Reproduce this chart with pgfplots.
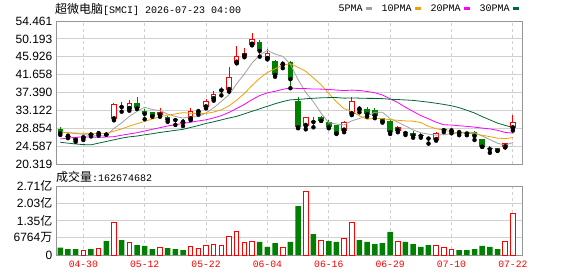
\documentclass[border=0pt]{standalone}
\usepackage{pgfplots}
\usepackage{pgfplotstable}
\pgfplotsset{compat=1.18}
\usepackage{fontspec}
\setmainfont{Liberation Sans}
\setmonofont{Liberation Mono}
\newfontfamily\cjk{Noto Sans CJK SC}
\definecolor{kred}{RGB}{255,0,0}
\definecolor{kgreen}{RGB}{0,128,0}
\definecolor{maA}{RGB}{160,160,160}
\definecolor{maB}{RGB}{240,160,0}
\definecolor{maC}{RGB}{255,0,255}
\definecolor{maD}{RGB}{0,104,52}
\definecolor{gridc}{RGB}{208,208,208}
\definecolor{framec}{RGB}{150,150,150}

% red (rising) candles: index open high low close
\pgfplotstableread{
i o h l c
1 26.85 27.40 26.50 27.00
3 26.46 27.10 26.05 27.08
5 27.45 28.10 27.10 27.65
7 31.00 34.80 30.75 34.60
9 33.45 35.60 33.05 34.95
13 31.90 33.60 31.60 32.66
16 30.20 31.00 29.40 30.35
17 31.00 33.60 30.80 33.05
18 32.70 33.50 32.10 33.00
19 33.85 35.76 33.60 35.35
20 35.80 37.80 35.45 37.00
22 38.00 43.55 37.60 41.15
23 44.50 48.50 44.35 46.10
24 46.10 47.95 45.80 46.90
25 48.80 51.70 48.65 50.10
27 45.40 47.70 45.30 46.90
29 44.00 45.00 43.20 44.20
32 29.40 31.60 28.60 31.60
37 28.30 30.65 27.90 30.40
38 32.20 36.40 32.00 35.35
39 33.30 34.20 32.66 33.45
44 28.30 29.30 27.90 29.10
49 26.05 27.90 25.90 27.80
51 28.10 28.60 27.65 28.20
52 27.70 28.00 27.20 27.80
58 24.30 25.30 24.30 25.25
59 28.85 32.00 28.30 30.25
}\redc
% green (falling) candles
\pgfplotstableread{
i o h l c
0 28.70 29.10 27.25 27.65
2 26.70 26.80 25.65 26.05
4 27.55 27.90 26.90 27.35
6 27.80 27.90 27.30 27.35
8 34.10 35.20 32.80 33.90
10 34.95 36.40 33.45 33.60
11 33.05 33.40 31.00 32.30
12 32.70 32.75 31.60 31.80
14 31.50 31.85 30.40 30.85
15 31.00 31.05 29.65 30.80
21 38.10 38.60 36.70 37.90
26 49.45 49.90 45.95 47.30
28 45.00 45.15 41.15 41.60
30 44.75 45.00 38.40 40.55
31 35.35 36.25 28.85 29.10
33 30.50 31.47 29.08 30.35
34 31.60 31.75 30.60 30.65
35 30.40 30.80 28.85 29.10
36 29.60 29.65 27.50 27.65
40 33.40 34.00 31.60 32.20
41 33.20 33.75 31.25 31.85
42 31.25 31.40 30.20 30.45
43 30.60 30.80 27.50 27.90
45 27.90 28.30 27.25 27.70
46 27.80 28.30 26.60 27.10
47 27.15 27.80 26.60 27.00
48 26.50 26.85 25.20 26.40
50 28.55 28.90 27.95 28.40
53 27.75 28.00 27.20 27.60
54 27.90 28.20 26.05 27.00
55 26.20 26.40 24.40 24.45
56 24.00 24.60 23.00 23.85
57 24.05 24.10 23.45 23.50
}\greenc
% volume, millions of shares
\pgfplotstableread{
i v
3 19.6
5 27.4
7 125.5
9 49.7
13 30.1
17 34.0
18 27.4
19 37.9
20 41.8
21 35.3
22 73.2
23 92.8
24 49.7
25 53.6
29 30.1
32 249.7
34 57.5
37 65.3
38 128.1
44 54.9
49 35.3
50 30.1
51 23.5
58 51.0
59 162.67
}\volr
\pgfplotstableread{
i v
0 28.7
1 23.5
2 23.5
4 23.5
6 54.9
8 58.8
10 39.2
11 35.3
12 23.5
14 27.4
15 23.5
16 19.6
26 51.0
27 31.4
28 47.0
30 51.0
31 192.1
33 82.3
35 54.9
36 51.0
39 58.8
40 51.0
41 43.1
42 47.0
43 90.2
45 51.0
46 43.1
47 31.4
48 39.2
52 19.6
53 19.6
54 23.5
55 35.3
56 31.4
57 23.5
}\volg

\pgfplotsset{kaxis/.style={
  scale only axis, width=466pt,
  xmin=-0.56, xmax=60.19,
  axis line style={framec, line width=0.8pt},
  major tick length=0pt,
  xtick={3,11,19,27,35,43,51,59},
  xmajorgrids, ymajorgrids,
  x grid style={gridc, dash pattern=on 3pt off 3pt, line width=0.8pt},
  y grid style={gridc, line width=0.8pt},
  yticklabel style={font=\fontsize{12}{12}\selectfont, anchor=east, inner sep=0pt, xshift=-3.5pt},
}}

\begin{document}
\begin{tikzpicture}
\useasboundingbox (0,0) rectangle (578pt,276pt);

\begin{axis}[kaxis, at={(56pt,112pt)}, anchor=south west, height=143pt,
  ymin=20.319, ymax=54.461,
  ytick={20.319,24.587,28.854,33.122,37.390,41.658,45.926,50.193,54.461},
  yticklabels={20.319,24.587,28.854,33.122,37.390,41.658,45.926,50.193,54.461},
  xticklabels={},
  legend columns=4,
  legend plot pos=right,
  legend style={at={(0.603,1.084)}, anchor=west, draw=none, fill=none,
    inner xsep=0pt, inner ysep=0pt,
    font=\ttfamily\fontsize{10}{10}\selectfont,
    nodes={inner xsep=1.5pt, inner ysep=0pt},
    /tikz/every even column/.append style={column sep=7pt}},
  legend image code/.code={\draw[#1, line width=3pt] (0pt,0pt) -- (6pt,0pt);},
]
% green candles
\addplot[only marks, mark=none, forget plot,
  error bars/.cd, y dir=plus, y explicit, error mark=none,
  error bar style={kgreen, line width=1pt}]
  table[x=i, y=l, y error expr={\thisrow{h}-\thisrow{l}}] {\greenc};
\addplot[only marks, mark=none, forget plot,
  error bars/.cd, y dir=plus, y explicit, error mark=none,
  error bar style={kgreen, line width=5.5pt}]
  table[x=i, y=c, y error expr={max(\thisrow{o}-\thisrow{c},0.24)}] {\greenc};
% red candles
\addplot[only marks, mark=none, forget plot,
  error bars/.cd, y dir=plus, y explicit, error mark=none,
  error bar style={kred, line width=1pt}]
  table[x=i, y=l, y error expr={\thisrow{h}-\thisrow{l}}] {\redc};
\addplot[only marks, mark=none, forget plot,
  error bars/.cd, y dir=plus, y explicit, error mark=none,
  error bar style={kred, line width=5.5pt}]
  table[x=i, y=o, y error expr={max(\thisrow{c}-\thisrow{o},0.24)}] {\redc};
\addplot[only marks, mark=none, forget plot,
  error bars/.cd, y dir=plus, y explicit, error mark=none,
  error bar style={white, line width=3.5pt}]
  table[x=i, y expr={\thisrow{o}+0.24}, y error expr={max(\thisrow{c}-\thisrow{o}-0.48,0)}] {\redc};

% moving averages
\addplot[maA, line width=0.8pt, mark=none] coordinates {
(0,28.0)(1,27.8)(2,27.6)(3,27.4)(4,27.03)(5,27.03)(6,27.10)(7,28.81)(8,30.17)(9,31.69)
(10,32.88)(11,33.87)(12,33.31)(13,33.06)(14,32.24)(15,31.68)(16,31.29)(17,31.54)(18,31.61)(19,32.51)
(20,33.75)(21,35.26)(22,36.88)(23,39.50)(24,41.81)(25,44.43)(26,46.31)(27,47.46)(28,46.56)(29,46.02)
(30,44.11)(31,40.47)(32,37.41)(33,35.16)(34,32.45)(35,30.16)(36,29.87)(37,29.63)(38,30.63)(39,31.19)
(40,31.81)(41,32.65)(42,32.66)(43,31.17)(44,30.30)(45,29.40)(46,28.45)(47,27.76)(48,27.46)(49,27.20)
(50,27.34)(51,27.56)(52,27.72)(53,27.96)(54,27.80)(55,27.01)(56,26.14)(57,25.28)(58,24.81)(59,25.46)
};
\addlegendentry{5PMA}
\addplot[maB, line width=0.8pt, mark=none] coordinates {
(0,27.9)(1,27.8)(2,27.7)(3,27.65)(4,27.6)(5,27.6)(6,27.6)(7,28.15)(8,28.7)(9,29.36)
(10,29.95)(11,30.48)(12,31.06)(13,31.62)(14,31.97)(15,32.28)(16,32.58)(17,32.43)(18,32.34)(19,32.38)
(20,32.72)(21,33.28)(22,34.21)(23,35.56)(24,37.16)(25,39.09)(26,40.79)(27,42.17)(28,43.03)(29,43.92)
(30,44.27)(31,43.39)(32,42.44)(33,40.86)(34,39.24)(35,37.14)(36,35.17)(37,33.52)(38,32.90)(39,31.82)
(40,30.99)(41,31.26)(42,31.15)(43,30.90)(44,30.75)(45,30.61)(46,30.55)(47,30.21)(48,29.32)(49,28.75)
(50,28.37)(51,28.01)(52,27.74)(53,27.71)(54,27.50)(55,27.18)(56,26.85)(57,26.50)(58,26.39)(59,26.63)
};
\addlegendentry{10PMA}
\addplot[maC, line width=0.8pt, mark=none] coordinates {
(0,26.3)(1,26.5)(2,26.7)(3,26.8)(4,26.75)(5,26.7)(6,26.75)(7,26.85)(8,27.2)(9,27.5)
(10,27.8)(11,28.2)(12,28.6)(13,29.0)(14,29.4)(15,29.7)(16,30.0)(17,30.3)(18,30.6)(19,30.87)
(20,31.33)(21,31.88)(22,32.63)(23,33.59)(24,34.56)(25,35.69)(26,36.68)(27,37.30)(28,37.68)(29,38.15)
(30,38.49)(31,38.33)(32,38.32)(33,38.21)(34,38.20)(35,38.11)(36,37.98)(37,37.85)(38,37.96)(39,37.87)
(40,37.63)(41,37.33)(42,36.79)(43,35.88)(44,34.99)(45,33.87)(46,32.86)(47,31.87)(48,31.11)(49,30.29)
(50,29.68)(51,29.63)(52,29.44)(53,29.31)(54,29.12)(55,28.89)(56,28.70)(57,28.36)(58,27.85)(59,27.69)
};
\addlegendentry{20PMA}
\addplot[maD, line width=0.8pt, mark=none] coordinates {
(0,25.5)(1,25.3)(2,25.1)(3,24.95)(4,24.9)(5,25.3)(6,25.7)(7,26.1)(8,26.5)(9,26.8)
(10,27.0)(11,27.3)(12,27.55)(13,27.85)(14,28.1)(15,28.35)(16,28.6)(17,29.05)(18,29.5)(19,30.0)
(20,30.4)(21,30.85)(22,31.3)(23,31.7)(24,32.3)(25,32.9)(26,33.5)(27,34.1)(28,34.7)(29,35.22)
(30,35.65)(31,35.72)(32,35.90)(33,36.01)(34,36.12)(35,36.17)(36,36.18)(37,36.04)(38,36.09)(39,36.04)
(40,35.99)(41,35.98)(42,35.93)(43,35.77)(44,35.71)(45,35.61)(46,35.50)(47,35.30)(48,35.08)(49,34.83)
(50,34.54)(51,34.22)(52,33.77)(53,33.16)(54,32.49)(55,31.64)(56,30.86)(57,30.08)(58,29.53)(59,29.07)
};
\addlegendentry{30PMA}
\end{axis}

\begin{axis}[kaxis, at={(56pt,21pt)}, anchor=south west, height=69pt,
  ymin=0, ymax=270.56,
  ytick={0,67.64,135.28,202.92,270.56},
  yticklabels={0,6764{\cjk 万},1.35{\cjk 亿},2.03{\cjk 亿},2.71{\cjk 亿}},
  xticklabels={04-30,05-12,05-22,06-04,06-16,06-29,07-10,07-22},
  xticklabel style={text=kred, font=\ttfamily\fontsize{9.7}{10}\selectfont, anchor=north, inner sep=0pt, yshift=-6pt},
]
\addplot[ybar, bar width=5.5pt, bar shift=0pt, fill=kgreen, draw=none] table[x=i, y=v] {\volg};
\addplot[ybar, bar width=4.5pt, bar shift=0pt, fill=white, draw=kred, line width=1pt] table[x=i, y=v] {\volr};
\end{axis}

\node[anchor=west, inner sep=0pt] at (55pt,266.5pt)
  {{\cjk\fontsize{12}{12}\selectfont 超微电脑}{\ttfamily\fontsize{10}{10}\selectfont [SMCI] 2026-07-23 04:00}};
\node[anchor=west, inner sep=0pt] at (56pt,99pt)
  {{\cjk\fontsize{12}{12}\selectfont 成交量}{\ttfamily\fontsize{10}{10}\selectfont :162674682}};
\end{tikzpicture}
\end{document}
